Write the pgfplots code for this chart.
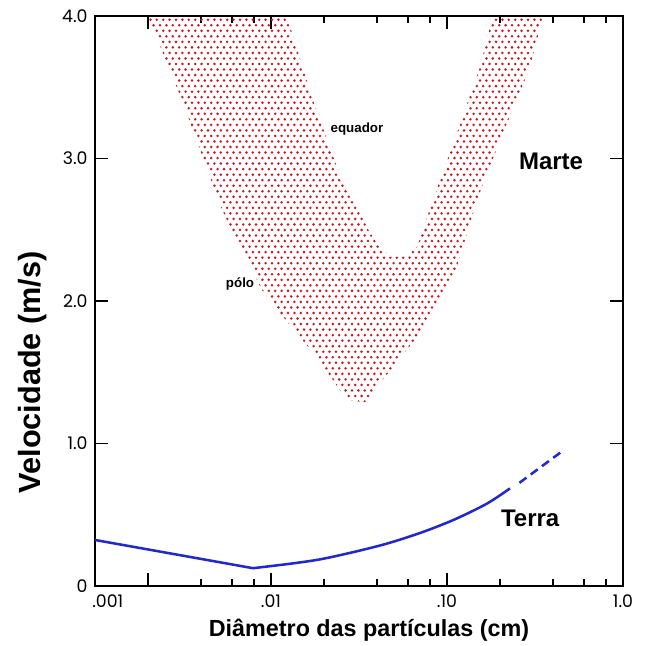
\documentclass[border=0pt]{standalone}
\usepackage{pgfplots}
\pgfplotsset{compat=1.18}
\usepackage{fontspec}
\setmainfont{Liberation Sans}
\newfontfamily\tickfont{Poppins}
\usetikzlibrary{patterns}
\newcommand\tfont[1]{\mbox{\tickfont #1}}

\definecolor{dotred}{RGB}{200,25,35}
\definecolor{terrablue}{RGB}{35,40,205}

% hexagonal stipple for the Mars band
\pgfdeclarepatternformonly{stipple}{\pgfqpoint{-1.2pt}{-1.2pt}}{\pgfqpoint{4pt}{5.2pt}}{\pgfqpoint{4.8pt}{8.3pt}}{%
  \pgfpathcircle{\pgfqpoint{0pt}{0pt}}{1.05pt}
  \pgfpathcircle{\pgfqpoint{2.4pt}{4.15pt}}{1.05pt}
  \pgfusepath{fill}}

\begin{document}
\begin{tikzpicture}
\begin{axis}[
    name=ax,
    scale only axis,
    width=396pt, height=427.5pt,
    xmode=log,
    xmin=0.001, xmax=1,
    ymin=0, ymax=4,
    axis line style={line width=1.4pt},
    tick style={line width=1.1pt, black},
    major tick length=10pt,
    minor tick length=5pt,
    xtick={0.001,0.01,0.1,1},
    xticklabels={\makebox[0pt][l]{\hspace{-2pt}\tickfont .001},\tfont{.01},\tfont{.10},\tfont{1.0}},
    extra x ticks={0.002},
    extra x tick labels={},
    minor xtick={0.004,0.006,0.008,0.02,0.04,0.06,0.08,0.2,0.4,0.6,0.8},
    ytick={0,1,2,3,4},
    yticklabels={\tfont{0},\tfont{1.0},\tfont{2.0},\tfont{3.0},\tfont{4.0}},
    tick label style={font=\fontsize{13}{13}\selectfont},
    xticklabel style={yshift=-3pt},
    yticklabel style={xshift=-2pt},
    xlabel={Diâmetro das partículas (cm)},
    ylabel={\textbf{Velocidade (m/s)}},
    xlabel style={font=\bfseries\fontsize{17.5}{18}\selectfont, at={(axis description cs:0.519,0)}, anchor=center, yshift=-33pt},
    ylabel style={font=\fontsize{23}{24}\selectfont, at={(axis description cs:0,0.375)}, anchor=center, yshift=47pt},
]
% Mars band (pole to equator)
\addplot[draw=none, pattern=stipple, pattern color=dotred] coordinates {
  (0.0020,4.0) (0.00312,3.41) (0.00527,2.64) (0.00889,2.077) (0.0128,1.83)
  (0.0182,1.607) (0.0270,1.305) (0.0342,1.29) (0.0493,1.537) (0.0703,1.775)
  (0.0912,2.007) (0.114,2.239) (0.148,2.709) (0.208,3.179) (0.297,3.642)
  (0.351,4.0) (0.182,4.0) (0.154,3.642) (0.114,3.179) (0.0832,2.709)
  (0.0676,2.379) (0.0562,2.309) (0.0474,2.309) (0.0365,2.477) (0.0237,2.940)
  (0.0173,3.41) (0.0123,4.0) (0.0020,4.0)
};
% Earth
\addplot[terrablue, line width=1.9pt] coordinates {
  (0.001,0.323) (0.0079,0.125)
};
\addplot[terrablue, line width=1.9pt, smooth] coordinates {
  (0.0079,0.125) (0.0128,0.156) (0.019,0.187) (0.0294,0.238) (0.0454,0.297)
  (0.0703,0.372) (0.1086,0.463) (0.168,0.577) (0.228,0.685)
};
\addplot[terrablue, line width=1.9pt, dash pattern=on 6.5pt off 4pt] coordinates {
  (0.258,0.724) (0.456,0.95)
};
\node[font=\bfseries\fontsize{10}{10}\selectfont] at (axis cs:0.0308,3.21) {equador};
\node[font=\bfseries\fontsize{10}{10}\selectfont] at (axis cs:0.00667,2.12) {pólo};
\node[font=\bfseries\fontsize{18}{18}\selectfont] at (axis cs:0.39,2.98) {Marte};
\node[font=\bfseries\fontsize{18}{18}\selectfont] at (axis cs:0.297,0.477) {Terra};
\end{axis}
\pgfresetboundingbox
\path ([xshift=-71.25pt,yshift=-44.25pt]ax.south west) rectangle ([xshift=18.75pt,yshift=12pt]ax.north east);
\end{tikzpicture}
\end{document}
